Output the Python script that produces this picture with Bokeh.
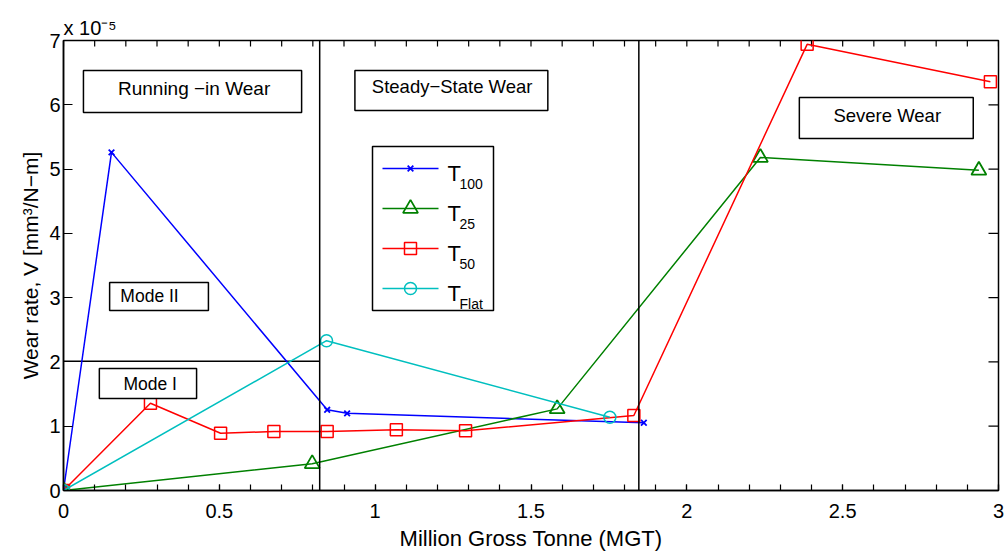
from bokeh.plotting import figure
from bokeh.models import (Label, BoxAnnotation, Span,
                          FixedTicker, CustomJSTickFormatter, Range1d)
from bokeh.embed import file_html
from bokeh.resources import INLINE

FONT = "Liberation Sans"

# Million Gross Tonne (x) and wear rate in units of 1e-5 mm^3/N-m (y)
t100_x = [0.0, 0.154, 0.846, 0.910, 1.862]
t100_y = [0.0, 5.26, 1.255, 1.20, 1.053]
t25_x = [0.0, 0.798, 1.584, 2.236, 2.937]
t25_y = [0.0, 0.415, 1.27, 5.18, 4.98]
t50_x = [0.0, 0.279, 0.504, 0.675, 0.846, 1.068, 1.290, 1.830, 2.386, 2.974]
t50_y = [0.0, 1.358, 0.89, 0.918, 0.918, 0.944, 0.93, 1.166, 6.94, 6.36]
tflat_x = [0.0, 0.844, 1.753]
tflat_y = [0.0, 2.33, 1.14]

series_names = ["T", "T", "T", "T"]
series_subs = ["100", "25", "50", "Flat"]
series_colors = ["#0000ff", "#008000", "#ff0000", "#00bfbf"]
series_markers = ["x", "triangle", "square", "circle"]
marker_sizes = [8, 15, 12, 12]
marker_widths = [1.8, 1.8, 1.5, 1.5]

x_ticks = [0, 0.5, 1, 1.5, 2, 2.5, 3]
x_minor = [i / 10 for i in range(31)]
y_ticks = [0, 1, 2, 3, 4, 5, 6, 7]
X0, X1, Y0, Y1 = 0, 3, 0, 7

# wear-regime boundaries
region_bounds = [0.822, 1.846]
mode_x0 = [0.0]
mode_x1 = [0.822]
mode_y = [2.01]

# annotation boxes: (left, right, bottom, top), text position, text
boxes = [
    (0.064, 0.764, 5.88, 6.533),
    (0.935, 1.554, 5.911, 6.533),
    (2.361, 2.919, 5.475, 6.113),
    (0.148, 0.465, 2.80, 3.235),
    (0.115, 0.427, 1.431, 1.898),
]
box_texts = ["Running \u2212in Wear", "Steady\u2212State Wear", "Severe Wear", "Mode II", "Mode I"]
box_text_x = [0.419, 1.247, 2.643, 0.276, 0.278]
box_text_y = [6.25, 6.28, 5.84, 3.02, 1.65]
box_text_size = ["19px", "18.5px", "18.5px", "17.5px", "17.5px"]

FW, FH = 935, 450
ML, MT = 63, 40
sx = (X1 - X0) / FW   # data per pixel
sy = (Y1 - Y0) / FH


def dx(px):  # page pixel -> data x
    return X0 + (px - ML) * sx


def dy(py):  # page pixel -> data y
    return Y0 + (MT + FH - py) * sy


p = figure(frame_width=FW, frame_height=FH,
           x_range=Range1d(X0, X1), y_range=Range1d(Y0, Y1),
           output_backend="svg", toolbar_location=None,
           min_border_left=ML, min_border_right=8, min_border_top=MT, min_border_bottom=40)
p.grid.visible = False
p.outline_line_color = "black"
p.outline_line_width = 1.5
p.outline_line_alpha = 1
p.background_fill_color = "white"
p.border_fill_color = "white"

# exponent note above the axes
p.title.text = "x 10\u207b\u2075"
p.title.align = "left"
p.title.offset = 0
p.title.standoff = 4
p.title.text_font = FONT
p.title.text_font_size = "20px"
p.title.text_font_style = "normal"
p.title.text_color = "black"

fmt = CustomJSTickFormatter(code="return (Math.round(tick*10)/10).toString();")

xa = p.xaxis[0]
xa.ticker = FixedTicker(ticks=x_ticks, minor_ticks=x_minor)
xa.formatter = fmt
xa.axis_label = "Million Gross Tonne (MGT)"
ya = p.yaxis[0]
ya.ticker = FixedTicker(ticks=y_ticks, minor_ticks=[])
ya.axis_label = "Wear rate, V [mm\u00b3/N\u2212m]"

for ax in (xa, ya):
    ax.axis_label_text_font = FONT
    ax.axis_label_text_font_size = "22px"
    ax.axis_label_text_font_style = "normal"
    ax.axis_label_text_color = "black"
    ax.major_label_text_font = FONT
    ax.major_label_text_font_size = "20px"
    ax.major_label_text_color = "black"
    ax.axis_line_color = "black"
    ax.axis_line_width = 1.5
    ax.major_tick_line_color = "black"
    ax.minor_tick_line_color = "black"
    ax.major_tick_line_width = 1.2
    ax.minor_tick_line_width = 1.2
    ax.major_tick_out = 0
    ax.minor_tick_out = 0
ya.axis_label_text_font_size = "21px"
xa.major_tick_in = 6
xa.minor_tick_in = 6
ya.major_tick_in = 9
ya.minor_tick_in = 0
xa.major_label_standoff = 13
xa.axis_label_standoff = 5
ya.major_label_standoff = 3
ya.axis_label_standoff = 4

# mirrored ticks on top and right edges
p.segment(x0=x_minor, y0=[Y1] * len(x_minor), x1=x_minor, y1=[Y1 - 6 * sy] * len(x_minor),
          line_color="black", line_width=1.2)
p.segment(x0=[X1] * len(y_ticks), y0=y_ticks, x1=[X1 - 10 * sx] * len(y_ticks), y1=y_ticks,
          line_color="black", line_width=1.2)

# regime boundaries
for loc in region_bounds:
    p.add_layout(Span(location=loc, dimension="height", line_color="black", line_width=1.5))
p.segment(x0=mode_x0, y0=mode_y, x1=mode_x1, y1=mode_y, line_color="black", line_width=1.5)

# data
series = [(t100_x, t100_y), (t25_x, t25_y), (t50_x, t50_y), (tflat_x, tflat_y)]
for (xs, ys), c, mk, ms, mw in zip(series, series_colors, series_markers,
                                   marker_sizes, marker_widths):
    p.line(xs, ys, line_color=c, line_width=1.5)
    p.scatter(xs, ys, marker=mk, size=ms, line_color=c, fill_alpha=0, line_width=mw)

# boxes with text
for (l, r, b, t), txt, tx, ty, fs in zip(boxes, box_texts, box_text_x, box_text_y, box_text_size):
    p.add_layout(BoxAnnotation(left=l, right=r, bottom=b, top=t, fill_color="white",
                               fill_alpha=1, line_color="black", line_alpha=1, line_width=1.5))
    p.add_layout(Label(x=tx, y=ty, text=txt, text_align="center", text_baseline="middle",
                       text_font=FONT, text_font_size=fs, text_color="black"))

# legend (drawn by hand so that the subscripts can be shown)
leg_left, leg_right, leg_top, leg_bottom = 372, 493, 146, 310
item_y = [168 + 40 * i for i in range(4)]
sample_x0, sample_x1, label_x, sub_x = 382, 438, 447, 459
p.add_layout(BoxAnnotation(left=dx(leg_left), right=dx(leg_right), top=dy(leg_top),
                           bottom=dy(leg_bottom), fill_alpha=0, line_color="black",
                           line_alpha=1, line_width=1.5))
for iy, c, mk, ms, mw, name, sub in zip(item_y, series_colors, series_markers, marker_sizes,
                                        marker_widths, series_names, series_subs):
    p.segment(x0=[dx(sample_x0)], y0=[dy(iy)], x1=[dx(sample_x1)], y1=[dy(iy)],
              line_color=c, line_width=1.5)
    p.scatter(x=[dx((sample_x0 + sample_x1) / 2)], y=[dy(iy)], marker=mk, size=ms,
              line_color=c, fill_alpha=0, line_width=mw)
    p.add_layout(Label(x=dx(label_x), y=dy(iy + 5), text=name, text_align="left",
                       text_baseline="alphabetic", text_font=FONT, text_font_size="22px",
                       text_color="black"))
    p.add_layout(Label(x=dx(sub_x), y=dy(iy + 15), text=sub, text_align="left",
                       text_baseline="alphabetic", text_font=FONT, text_font_size="14px",
                       text_color="black"))

open("out.html", "w").write(file_html(p, INLINE))
